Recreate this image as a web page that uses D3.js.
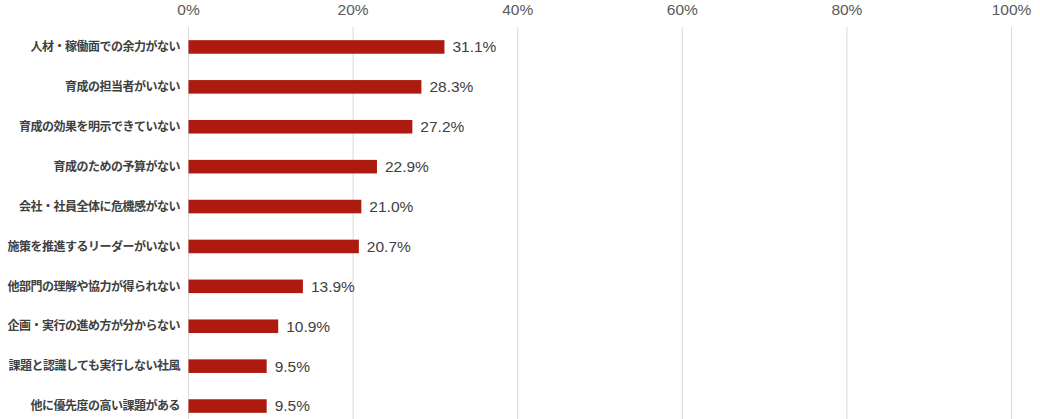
<!DOCTYPE html>
<html><head><meta charset="utf-8">
<script src="https://cdn.jsdelivr.net/npm/d3@7"></script>
<style>body{margin:0;background:#fff}svg{display:block}</style>
</head><body>
<script>
const categories = ["人材・稼働面での余力がない","育成の担当者がいない","育成の効果を明示できていない","育成のための予算がない","会社・社員全体に危機感がない","施策を推進するリーダーがいない","他部門の理解や協力が得られない","企画・実行の進め方が分からない","課題と認識しても実行しない社風","他に優先度の高い課題がある"];
const values = [31.1,28.3,27.2,22.9,21.0,20.7,13.9,10.9,9.5,9.5];
const tickValues = [0,20,40,60,80,100];

const W=1040,H=419;
const svg=d3.select("body").append("svg").attr("width",W).attr("height",H);
const x=d3.scaleLinear().domain([0,100]).range([188.5,1011.5]);
const y=d3.scaleBand().domain(categories).range([27,426]).paddingInner(0.66).paddingOuter(0.33);

svg.append("g").selectAll("line").data(tickValues).join("line")
 .attr("x1",d=>x(d)).attr("x2",d=>x(d)).attr("y1",27).attr("y2",H)
 .attr("stroke","#d9d9d9").attr("stroke-width",1);
svg.append("g").selectAll("text").data(tickValues).join("text")
 .attr("x",d=>x(d)).attr("y",10).attr("dy","0.35em").attr("text-anchor","middle")
 .attr("font-family","Liberation Sans, Arial, sans-serif").attr("font-size",15.5).attr("fill","#595959")
 .text(d=>d+"%");

svg.append("g").selectAll("rect").data(values).join("rect")
 .attr("x",x(0)).attr("y",(d,i)=>y(categories[i])).attr("width",d=>x(d)-x(0)).attr("height",y.bandwidth())
 .attr("fill","#ad1a10");
svg.append("g").selectAll("text").data(values).join("text")
 .attr("x",d=>x(d)+8).attr("y",(d,i)=>y(categories[i])+y.bandwidth()/2).attr("dy","0.35em")
 .attr("font-family","Liberation Sans, Arial, sans-serif").attr("font-size",15.5).attr("fill","#404040")
 .text(d=>d.toFixed(1)+"%");
svg.append("g").selectAll("text").data(categories).join("text")
 .attr("x",180).attr("y",d=>y(d)+y.bandwidth()/2).attr("dy","0.35em").attr("text-anchor","end")
 .attr("font-family","Noto Sans CJK JP, sans-serif").attr("font-size",12).attr("font-weight","bold").attr("fill","#404040")
 .attr("letter-spacing","-0.5px")
 .text(d=>d);
</script>
</body></html>
